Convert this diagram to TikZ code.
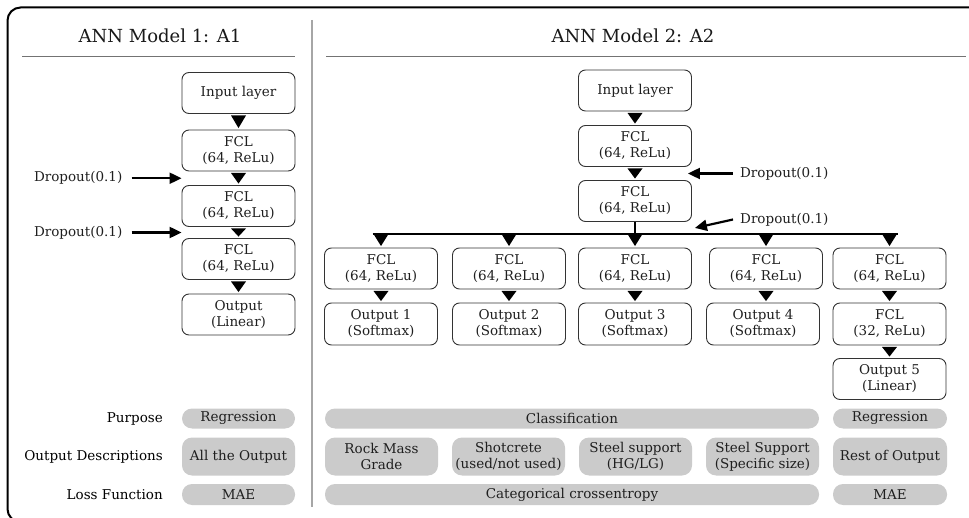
\documentclass[tikz,border=0pt]{standalone}
\usepackage{fontspec}
\setmainfont{DejaVu Serif}
\usetikzlibrary{arrows.meta,calc}
\definecolor{pillgray}{HTML}{CBCBCB}
\definecolor{boxline}{HTML}{333333}
\begin{document}
\begin{tikzpicture}[x=1pt,y=-1pt,
  txt/.style={font=\fontsize{13.5}{16}\selectfont, text=black!88, inner sep=0pt},
  ttl/.style={font=\fontsize{18}{21}\selectfont, text=black!90, inner sep=0pt},
  box/.style={txt, draw=boxline, line width=0.9pt, rounded corners=7pt,
    minimum width=113pt, minimum height=41pt, align=center},
  pill/.style={txt, fill=pillgray, rounded corners=10pt, align=center,
    minimum width=113pt, minimum height=#1},
  arr/.style={line width=2.2pt, -{Triangle[length=12pt,width=11pt]}},
  tri/.style={fill=black}]
\useasboundingbox (0,0) rectangle (969,518);
\clip (0,0) rectangle (969,518);
% frame
\draw[line width=2pt, rounded corners=13pt] (7.5,7.5) rectangle (995,522);
% titles
\node[ttl] (t1) at (160,36) {ANN Model 1: A1};
\node[ttl] (t2) at (633,36) {ANN Model 2: A2};
\draw[black!55, line width=0.9pt] (22,56.5) -- (295,56.5);
\draw[black!55, line width=0.9pt] (326,56.5) -- (966,56.5);
\draw[black!35, line width=1.2pt] (312,20) -- (312,507);
% left model
\node[box] (inA) at (238.5,93) {Input layer};
\node[box] (fA1) at (238.5,150.5) {FCL\\(64, ReLu)};
\node[box] (fA2) at (238.5,206) {FCL\\(64, ReLu)};
\node[box] (fA3) at (238.5,259) {FCL\\(64, ReLu)};
\node[box] (oA) at (238.5,314.5) {Output\\(Linear)};
\foreach \u/\l in {inA/fA1,fA1/fA2,fA2/fA3,fA3/oA}{
  \fill[tri] ($(\u.south)+(-7.5,1.5)$) -- ($(\u.south)+(7.5,1.5)$) -- ($(\u.south |- \l.north)+(0,-1.5)$) -- cycle;
}
\coordinate (gA1) at ($(fA1.south west)!0.5!(fA2.north west)$);
\coordinate (gA2) at ($(fA2.south west)!0.5!(fA3.north west)$);
\node[txt, anchor=east] (dA1) at ($(gA1)+(-59,0)$) {Dropout(0.1)};
\node[txt, anchor=east] (dA2) at ($(gA2)+(-59,0)$) {Dropout(0.1)};
\draw[arr] ($(dA1.east)+(9,0)$) -- (gA1);
\draw[arr] ($(dA2.east)+(9,0)$) -- (gA2);
% right model trunk
\node[box] (inB) at (635,90.5) {Input layer};
\node[box] (fB1) at (635,146) {FCL\\(64, ReLu)};
\node[box] (fB2) at (635,201) {FCL\\(64, ReLu)};
\foreach \u/\l in {inB/fB1,fB1/fB2}{
  \fill[tri] ($(\u.south)+(-7.5,1.5)$) -- ($(\u.south)+(7.5,1.5)$) -- ($(\u.south |- \l.north)+(0,-1.5)$) -- cycle;
}
\coordinate (gB1) at ($(fB1.south east)!0.5!(fB2.north east)+(-4,0)$);
\coordinate (gB2) at ($(fB2.south east)+(3,6)$);
\node[txt, anchor=west] (dB1) at ($(gB1)+(52,0)$) {Dropout(0.1)};
\node[txt, anchor=west] (dB2) at (740,219.5) {Dropout(0.1)};
\draw[arr] ($(dB1.west)+(-7,0)$) -- (gB1);
\draw[arr] ($(dB2.west)+(-7,0)$) -- (gB2);
% branches
\node[box] (b1) at (381,268.5) {FCL\\(64, ReLu)};
\node[box] (b2) at (509,268.5) {FCL\\(64, ReLu)};
\node[box] (b3) at (635,268.5) {FCL\\(64, ReLu)};
\node[box] (b4) at (766,268.5) {FCL\\(64, ReLu)};
\node[box] (b5) at (889.5,268.5) {FCL\\(64, ReLu)};
\node[box, minimum height=42pt] (o1) at (381,324) {Output 1\\(Softmax)};
\node[box, minimum height=42pt] (o2) at (509,324) {Output 2\\(Softmax)};
\node[box, minimum height=42pt] (o3) at (635,324) {Output 3\\(Softmax)};
\node[box, minimum height=42pt] (o4) at (763,324) {Output 4\\(Softmax)};
\node[box, minimum height=42pt] (f5) at (889.5,324) {FCL\\(32, ReLu)};
\node[box] (o5) at (889.5,379) {Output 5\\(Linear)};
\coordinate (bus) at (635,234);
\draw[line width=2pt] (fB2.south) -- (fB2.south |- bus);
\draw[line width=2pt] ($(b1.north |- bus)+(-8.5,0)$) -- ($(b5.north |- bus)+(8.5,0)$);
\foreach \b in {b1,b2,b3,b4,b5}{
  \fill[tri] ($(\b.north |- bus)+(-7.5,0)$) -- ($(\b.north |- bus)+(7.5,0)$) -- ($(\b.north)+(0,-1.5)$) -- cycle;
}
\foreach \u/\l in {b1/o1,b2/o2,b3/o3,b4/o4,b5/f5,f5/o5}{
  \fill[tri] ($(\u.south)+(-7.5,1.5)$) -- ($(\u.south)+(7.5,1.5)$) -- ($(\u.south |- \l.north)+(0,-1.5)$) -- cycle;
}
% bottom table
\node[txt, text=black, anchor=east] (lP) at (163,418.5) {Purpose};
\node[txt, text=black, anchor=east] (lD) at (163,456.5) {Output Descriptions};
\node[txt, text=black, anchor=east] (lL) at (163,494.5) {Loss Function};
\node[pill=20pt] (pP1) at (238.5,418.5) {Regression};
\node[pill=38pt] (pD1) at (238.5,456.5) {All the Output};
\node[pill=21pt] (pL1) at (238.5,494.5) {MAE};
\node[pill=20pt, minimum width=494pt] (pC) at (572,418.5) {Classification};
\node[pill=20pt, minimum width=114pt] (pR) at (890,418.5) {Regression};
\node[pill=38pt] (d1) at (381.5,456.5) {Rock Mass\\Grade};
\node[pill=38pt] (d2) at (508.5,456.5) {Shotcrete\\(used/not used)};
\node[pill=38pt] (d3) at (635.5,456.5) {Steel support\\(HG/LG)};
\node[pill=38pt] (d4) at (762.5,456.5) {Steel Support\\(Specific size)};
\node[pill=38pt, minimum width=114pt] (d5) at (890,456.5) {Rest of Output};
\node[pill=21pt, minimum width=494pt] (pLC) at (572,494.5) {Categorical crossentropy};
\node[pill=21pt, minimum width=114pt] (pLM) at (890,494.5) {MAE};
\end{tikzpicture}
\end{document}
